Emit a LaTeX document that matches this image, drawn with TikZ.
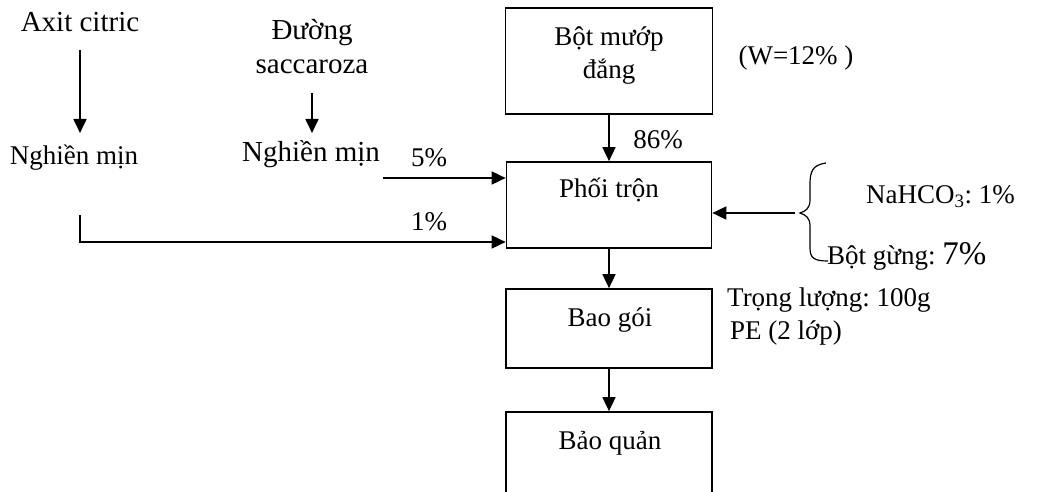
\documentclass[tikz,border=0pt]{standalone}
\usepackage{fontspec}
\setmainfont{Liberation Serif}
\usetikzlibrary{arrows.meta}
\frenchspacing
\begin{document}
\begin{tikzpicture}[x=1pt,y=-1pt,
  box/.style={draw,line width=1.7pt,inner sep=0pt},
  txt/.style={inner sep=0pt,align=center,font=\fontsize{27}{33}\selectfont},
  bigtxt/.style={txt,font=\fontsize{29}{34}\selectfont},
  arr/.style={line width=1.7pt,-{Triangle[length=14pt,width=13pt]}}]
\clip (0,0) rectangle (1037,492);
% boxes
\node[box,minimum width=207pt,minimum height=106pt] (b1) at (609,61) {};
\node[box,minimum width=205pt,minimum height=86pt] (b2) at (609,205) {};
\node[box,minimum width=206pt,minimum height=79pt] (b3) at (609,328.5) {};
\node[box,minimum width=206pt,minimum height=130pt] (b4) at (609,477) {};
% box texts
\node[txt] (t1) at (609,56) {Bột mướp\\đắng};
\node[txt] (t2) at (609,190) {Phối trộn};
\node[txt] (t3) at (610,320) {Bao gói};
\node[txt] (t4) at (610,443) {Bảo quản};
% left inputs
\node[bigtxt] (axit) at (80,22) {Axit citric};
\node[txt] (n1) at (74,158) {Nghiền mịn};
\node[bigtxt] (duong) at (312,47) {Đường\\saccaroza};
\node[bigtxt] (n2) at (311,154) {Nghiền mịn};
\node[txt] (p5) at (429,158) {5\%};
\node[txt] (p1) at (429,222) {1\%};
\draw[arr,shorten <=28pt,shorten >=25pt] (axit.center) -- (axit.center |- n1.center);
\draw[arr,shorten <=46pt,shorten >=21pt] (duong.center) -- (duong.center |- n2.center);
\coordinate (c5) at (383,178);
\draw[arr] (c5) -- (c5 -| b2.west);
\coordinate (c1) at (80,215);
\draw[arr] (c1) |- (b2.west |- 0,242);
% main flow
\draw[arr] (b1.south) -- (b2.north);
\draw[arr] (b2.south) -- (b3.north);
\draw[arr] (b3.south) -- (b4.north);
\node[txt] (p86) at (658,140) {86\%};
\node[txt] (w) at (796,58) {(W=12\% )};
% right inputs
\coordinate (cb) at (795,213);
\draw[arr] (cb) -- (cb -| b2.east);
\draw[line width=1.2pt] (826,163) .. controls (812,165) and (810,172) .. (810,185)
  -- (810,200) .. controls (810,208) and (806,211) .. (800,213)
  .. controls (806,215) and (810,218) .. (810,226)
  -- (810,248) .. controls (810,258) and (814,261) .. (828,261);
\node[txt,anchor=west] (na) at (866,197) {NaHCO\textsubscript{3}: 1\%};
\node[txt,anchor=west] (gung) at (827,256) {Bột gừng: {\fontsize{33}{33}\selectfont 7\%}};
\node[txt,anchor=west] (tl) at (727,300) {Trọng lượng: 100g};
\node[txt,anchor=west] (pe) at (730,333) {PE (2 lớp)};
\end{tikzpicture}
\end{document}
